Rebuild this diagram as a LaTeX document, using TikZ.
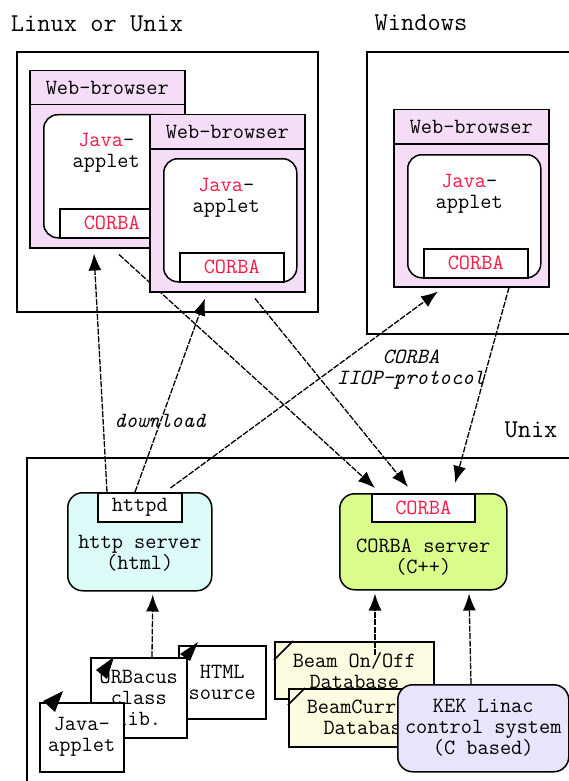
\documentclass[tikz,border=0pt]{standalone}
\usepackage{fontspec}
\usetikzlibrary{arrows.meta,positioning,backgrounds}
\definecolor{brpink}{RGB}{245,221,247}
\definecolor{httpcyan}{RGB}{220,250,246}
\definecolor{srvgreen}{RGB}{218,252,140}
\definecolor{dbyellow}{RGB}{252,252,224}
\definecolor{kekblue}{RGB}{232,228,252}
\definecolor{corbared}{RGB}{255,23,68}
\newcommand\boxfont{\ttfamily\fontsize{21.7}{21}\selectfont}
\newcommand\titlefont{\ttfamily\fontsize{25.7}{26}\selectfont}
\tikzset{
  title/.style={font=\titlefont},
  frame/.style={line width=1.5pt},
  box/.style={draw,line width=1.5pt,inner sep=0pt,anchor=north west,font=\boxfont,align=center},
  browser/.style={box,fill=brpink,minimum width=155,minimum height=177},
  bhead/.style={box,minimum width=155,minimum height=34},
  applet/.style={box,fill=white,rounded corners=14,minimum width=133,minimum height=123},
  corba/.style={box,fill=white,text=corbared,minimum width=104,minimum height=29},
  server/.style={box,rounded corners=15},
  file/.style={box,fill=white},
  db/.style={box,fill=dbyellow,minimum width=159},
  boxtext/.style={font=\boxfont,align=center},
  note/.style={font=\ttfamily\itshape\fontsize{21.7}{21}\selectfont,align=center},
  link/.style={->,line width=1.3pt,dash pattern=on 6pt off 1.5pt},
}
\begin{document}
\begin{tikzpicture}[x=1pt,y=-1pt,>={Latex[length=17pt,width=13pt]}]
\useasboundingbox (0,0) rectangle (569,781);
% titles and machines
\node[title] (tlinux) at (97,24) {Linux or Unix};
\node[title] (twin) at (421,23) {Windows};
\node[title] (tunix) at (531,430) {Unix};
\draw[frame] (17,52) rectangle (318,312);
\draw[frame] (367,52) rectangle (600,334);
\draw[frame] (27,458) rectangle (600,800);

% browsers
\node[browser] (b1) at (29,70) {};
\node[bhead] (b1h) at (b1.north west) {Web-browser};
\node[applet] (a1) at ([xshift=14pt,yshift=-44pt]b1.north west) {};
\node[corba,anchor=south west] (c1) at ([xshift=16pt]a1.south west) {CORBA};
\node[boxtext] at ([xshift=-4pt,yshift=-39pt]a1.north) {{\color{corbared}Java}-\\applet};

\node[browser] (b2) at (149,114) {};
\node[bhead] (b2h) at (b2.north west) {Web-browser};
\node[applet] (a2) at ([xshift=14pt,yshift=-44pt]b2.north west) {};
\node[corba,anchor=south west] (c2) at ([xshift=16pt]a2.south west) {CORBA};
\node[boxtext] at ([xshift=-4pt,yshift=-40pt]a2.north) {{\color{corbared}Java}-\\applet};

\node[browser] (bw) at (393,109) {};
\node[bhead] (bwh) at (bw.north west) {Web-browser};
\node[applet] (aw) at ([xshift=14pt,yshift=-45pt]bw.north west) {};
\node[corba,anchor=south west] (cw) at ([xshift=16pt]aw.south west) {CORBA};
\node[boxtext] at ([xshift=-5pt,yshift=-40pt]aw.north) {{\color{corbared}Java}-\\applet};

% servers
\node[server,fill=httpcyan,minimum width=144,minimum height=98] (http) at (67,492) {};
\node[box,fill=white,minimum width=84,minimum height=29] (httpd) at ([xshift=30pt]http.north west) {httpd};
\node[boxtext] at ([yshift=-12pt]http.center) {http server\\(html)};

\node[server,fill=srvgreen,minimum width=167,minimum height=96] (srv) at (339,493) {};
\node[corba,minimum width=103,minimum height=28] (srvc) at ([xshift=32pt]srv.north west) {CORBA};
\node[boxtext] at ([yshift=-15pt]srv.center) {CORBA server\\(C++)};

% source files
\node[file,minimum width=87,minimum height=73] (html) at (178,645) {HTML\\source};
\fill (html.north west) ++(20,-3) -- ++(-18,12) -- ++(10,7) -- cycle;
\node[file,minimum width=96,minimum height=80] (orb) at (90,657) {ORBacus\\class\\lib.};
\fill (orb.north west) ++(24,0) -- ++(-18,13) -- ++(11,9) -- cycle;
\node[file,minimum width=84,minimum height=69] (jfile) at (39,702) {Java-\\applet};
\fill (jfile.north west) ++(24,-11) -- ++(-20,10) -- ++(12,11) -- cycle;

% databases and control system
\node[db,minimum height=57] (beam) at (274,641) {Beam On/Off\\Database};
\draw[line width=1.5pt] (beam.north west) ++(0,19) -- ++(19,-19);
\node[db,minimum height=58] (bcur) at (288,688) {BeamCurrent\\Database};
\draw[line width=1.5pt] (bcur.north west) ++(0,17) -- ++(17,-17);
\node[server,fill=kekblue,minimum width=171,minimum height=87] (kek) at (397,684) {KEK Linac\\control system\\(C based)};

% connections
\begin{scope}[on background layer]
\draw[link] ([xshift=10pt]httpd.north west) -- ([xshift=65pt,yshift=-5pt]b1.south west);
\draw[link] ([xshift=38pt]httpd.north west) -- ([xshift=56pt,yshift=-6pt]b2.south west);
\draw[link] ([xshift=-12pt,yshift=4pt]httpd.north east) -- ([xshift=45pt,yshift=-4pt]bw.south west);
\draw[link] ([xshift=90pt,yshift=-6pt]b1.south west) -- ([xshift=4pt,yshift=5pt]srvc.north west);
\draw[link] ([xshift=106pt,yshift=-6pt]b2.south west) -- ([xshift=37pt,yshift=6pt]srvc.north west);
\draw[link] ([xshift=116pt]bw.south west) -- ([xshift=84pt,yshift=10pt]srvc.north west);
\end{scope}
\draw[link] ([xshift=62pt]orb.north west) -- ([xshift=13pt,yshift=-3pt]http.south);
\draw[link] ([xshift=101pt,yshift=-14pt]beam.north west) -- ([xshift=36pt,yshift=-3pt]srv.south west);
\draw[link] ([xshift=74pt]kek.north west) -- ([xshift=130pt,yshift=-3pt]srv.south west);
\node[note] (dl) at (160,421) {download};
\node[note] (iiop) at (411,370) {CORBA\\IIOP-protocol};
\end{tikzpicture}
\end{document}
